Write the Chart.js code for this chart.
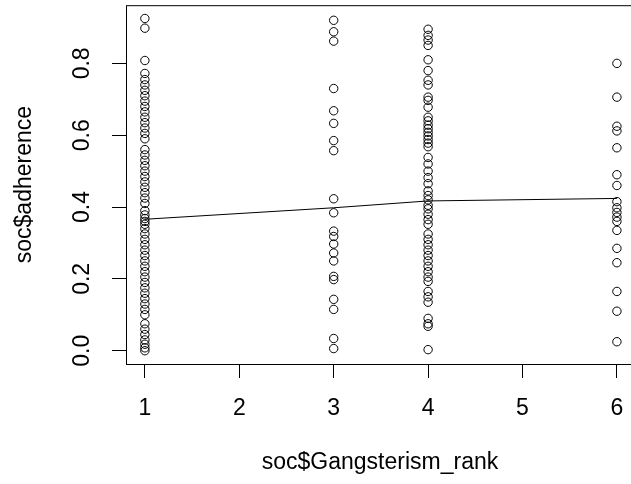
<!DOCTYPE html>
<html>
<head>
<meta charset="utf-8">
<script src="https://cdn.jsdelivr.net/npm/chart.js@4"></script>
<style>
  html, body { margin: 0; padding: 0; background: #fff; overflow: hidden; }
  canvas { display: block; }
</style>
</head>
<body>
<!-- the plot box runs a few px past the right edge of the window, as in the reference -->
<canvas id="plot" width="641" height="484"></canvas>
<script>
/* ===== data ===== */
const rank1Vals = [0.925, 0.898, 0.808, 0.772, 0.755, 0.740, 0.725, 0.710, 0.695, 0.680, 0.665, 0.650,
  0.635, 0.620, 0.605, 0.590, 0.560, 0.545, 0.530, 0.515, 0.500, 0.485, 0.470, 0.455, 0.440, 0.425,
  0.410, 0.390, 0.378, 0.368, 0.360, 0.352, 0.340, 0.325, 0.310, 0.295, 0.280, 0.265, 0.250, 0.235,
  0.220, 0.205, 0.190, 0.175, 0.160, 0.145, 0.130, 0.115, 0.100, 0.075, 0.060, 0.045, 0.030, 0.018,
  0.008, 0.000];
const rank3Vals = [0.920, 0.888, 0.862, 0.730, 0.668, 0.633, 0.585, 0.557, 0.423, 0.384, 0.333, 0.318,
  0.297, 0.272, 0.250, 0.207, 0.198, 0.143, 0.115, 0.034, 0.006];
const rank4Vals = [0.895, 0.878, 0.865, 0.850, 0.810, 0.780, 0.753, 0.740, 0.706, 0.697, 0.678, 0.650,
  0.640, 0.628, 0.618, 0.608, 0.598, 0.588, 0.578, 0.568, 0.538, 0.520, 0.500, 0.482, 0.465, 0.445,
  0.432, 0.420, 0.405, 0.395, 0.380, 0.365, 0.352, 0.325, 0.310, 0.295, 0.280, 0.265, 0.250, 0.235,
  0.220, 0.205, 0.193, 0.165, 0.150, 0.135, 0.090, 0.075, 0.068, 0.003];
const rank6Vals = [0.800, 0.706, 0.625, 0.612, 0.565, 0.490, 0.460, 0.415, 0.398, 0.385, 0.372,
  0.360, 0.335, 0.285, 0.245, 0.165, 0.110, 0.025];

// smoothed line
const lineX = [1, 3, 4, 6];
const lineY = [0.366, 0.398, 0.417, 0.424];

const xTicks = [1, 2, 3, 4, 5, 6];
const yTicks = [0.0, 0.2, 0.4, 0.6, 0.8];
const xTitle = "soc$Gangsterism_rank";
const yTitle = "soc$adherence";

/* ===== build ===== */
const FONT = '"Liberation Sans", Arial, sans-serif';
const FS = 23;

const pts = [];
[[1, rank1Vals], [3, rank3Vals], [4, rank4Vals], [6, rank6Vals]].forEach(([x, arr]) =>
  arr.forEach(v => pts.push({ x, y: v })));

const linePts = lineX.map((x, i) => ({ x, y: lineY[i] }));

// box, labels and titles, R style
const rDecor = {
  id: "rDecor",
  afterDraw(chart) {
    const { ctx, chartArea: a, scales } = chart;
    ctx.save();
    ctx.strokeStyle = "#000";
    ctx.lineWidth = 1;
    ctx.strokeRect(a.left + 0.5, a.top + 0.5, a.right - a.left, a.bottom - a.top);

    ctx.fillStyle = "#000";
    ctx.font = `${FS}px ${FONT}`;
    ctx.textAlign = "center";
    ctx.textBaseline = "middle";

    // x tick labels
    xTicks.forEach(v => ctx.fillText(String(v), scales.x.getPixelForValue(v), 409));
    // y tick labels (rotated)
    yTicks.forEach(v => {
      ctx.save();
      ctx.translate(83, scales.y.getPixelForValue(v));
      ctx.rotate(-Math.PI / 2);
      ctx.fillText(v.toFixed(1), 0, 0);
      ctx.restore();
    });
    // titles, centred on the visible part of the plot
    ctx.fillText(xTitle, 380, 463);
    ctx.save();
    ctx.translate(25, (a.top + a.bottom) / 2);
    ctx.rotate(-Math.PI / 2);
    ctx.fillText(yTitle, 0, 0);
    ctx.restore();
    ctx.restore();
  }
};

const gridOpts = { drawOnChartArea: false, drawTicks: true, tickLength: 14, color: "#000", lineWidth: 1 };

new Chart(document.getElementById("plot"), {
  type: "scatter",
  data: {
    datasets: [
      { label: "points", data: pts, pointStyle: "circle", pointRadius: 4.2, pointHoverRadius: 4.2,
        borderColor: "#000", borderWidth: 1, backgroundColor: "rgba(0,0,0,0)" },
      { type: "line", label: "lowess", data: linePts, showLine: true, pointRadius: 0,
        borderColor: "#000", borderWidth: 1, tension: 0, fill: false }
    ]
  },
  options: {
    responsive: false,
    animation: false,
    devicePixelRatio: 1,
    layout: { padding: { top: 5, right: 5, left: 0, bottom: 0 } },
    plugins: { legend: { display: false }, tooltip: { enabled: false } },
    scales: {
      x: {
        type: "linear", min: 0.8, max: 6.2,
        afterBuildTicks: s => { s.ticks = xTicks.map(v => ({ value: v })); },
        afterFit: s => { s.height = 120; },
        ticks: { display: false },
        grid: gridOpts,
        border: { display: false }
      },
      y: {
        type: "linear", min: -0.037, max: 0.962,
        afterBuildTicks: s => { s.ticks = yTicks.map(v => ({ value: v })); },
        afterFit: s => { s.width = 126; },
        ticks: { display: false },
        grid: gridOpts,
        border: { display: false }
      }
    }
  },
  plugins: [rDecor]
});
</script>
</body>
</html>
